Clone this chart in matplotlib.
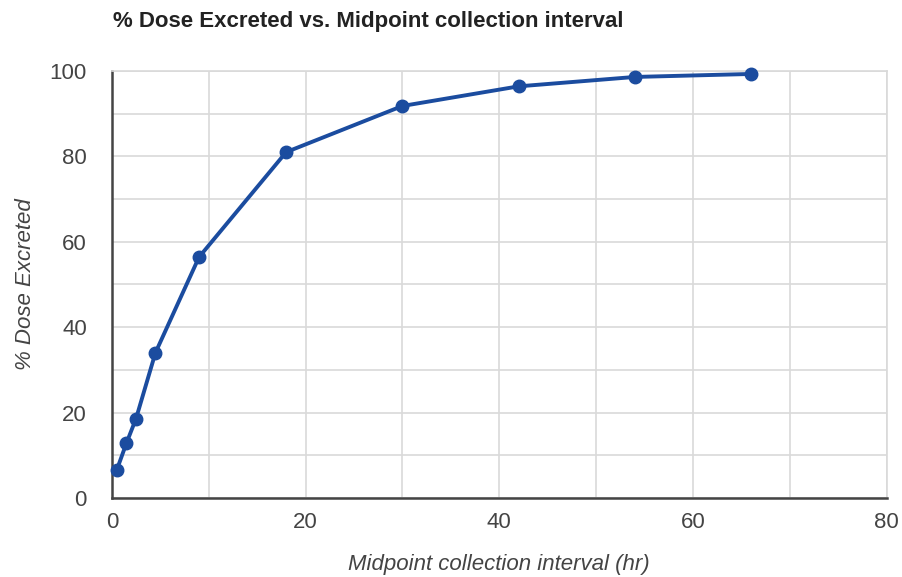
import matplotlib.pyplot as plt

plt.rcParams["font.family"] = ["Liberation Sans", "DejaVu Sans"]

# midpoint of each collection interval (hr) and cumulative % dose excreted
midpoints = [0.5, 1.5, 2.5, 4.5, 9, 18, 30, 42, 54, 66]
pct_excreted = [6.5, 12.8, 18.6, 34.0, 56.4, 81.0, 91.8, 96.4, 98.6, 99.3]

x_ticks = [0, 20, 40, 60, 80]
y_ticks = [0, 20, 40, 60, 80, 100]

fig = plt.figure(figsize=(9.02, 5.77), dpi=100)
ax = fig.add_axes([0.124, 0.137, 0.859, 0.74])

ax.plot(midpoints, pct_excreted, color="#1b4c9f", linewidth=2.8,
        marker="o", markersize=9, zorder=3, clip_on=False)

ax.set_xlim(0, 80)
ax.set_ylim(0, 100)
ax.set_xticks(x_ticks)
ax.set_yticks(y_ticks)
ax.set_xticks(range(0, 81, 10), minor=True)
ax.set_yticks(range(0, 101, 10), minor=True)
ax.grid(which="both", color="#d9d9d9", linewidth=1.2)
ax.set_axisbelow(True)

for s in ["top", "right"]:
    ax.spines[s].set_color("#d9d9d9")
    ax.spines[s].set_linewidth(1.2)
for s in ["left", "bottom"]:
    ax.spines[s].set_color("#444444")
    ax.spines[s].set_linewidth(1.8)

ax.tick_params(which="both", length=0, labelsize=16, labelcolor="#444444")
ax.tick_params(axis="y", pad=18)
ax.tick_params(axis="x", pad=10)

ax.set_xlabel("Midpoint collection interval (hr)", fontsize=16, style="italic",
              color="#444444", labelpad=15)
ax.set_ylabel("% Dose Excreted", fontsize=16, style="italic",
              color="#444444", labelpad=10)

fig.text(0.125, 0.962, "% Dose Excreted vs. Midpoint collection interval",
         fontsize=16, fontweight="bold", color="#222222", va="center")

fig.savefig("out.png", dpi=100, facecolor="white")
